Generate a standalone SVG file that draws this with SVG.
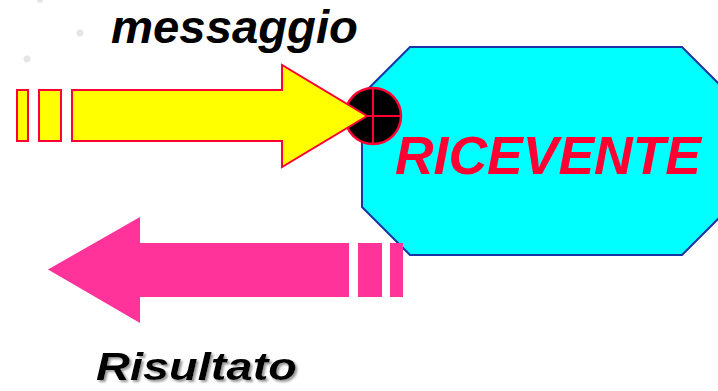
<svg xmlns="http://www.w3.org/2000/svg" width="718" height="391" viewBox="0 0 718 391">
<style>
.lbl{font-family:"Liberation Sans",Arial,sans-serif;font-weight:bold;font-style:italic}
.yel{fill:#ffff00;stroke:#ff0033;stroke-width:2}
.pink{fill:#ff3399}
</style>
<defs>
<filter id="shadow" x="-10%" y="-20%" width="120%" height="150%">
<feGaussianBlur in="SourceAlpha" stdDeviation="1"/>
<feOffset dx="2" dy="2" result="b"/>
<feFlood flood-color="#999999"/>
<feComposite in2="b" operator="in"/>
<feMerge><feMergeNode/><feMergeNode in="SourceGraphic"/></feMerge>
</filter>
</defs>
<rect width="718" height="391" fill="#ffffff"/>
<g id="bullets" fill="#e6e6e6">
<circle cx="40" cy="0" r="3"/>
<circle cx="80" cy="33" r="3.5"/>
<circle cx="27" cy="59" r="3.5"/>
</g>
<g id="ricevente">
<polygon points="410,47 682,47 730,95 730,207 682,255 410,255 362,207 362,95" fill="#00ffff" stroke="#1a33a6" stroke-width="2"/>
<text class="lbl" x="395" y="174" font-size="53" fill="#ff0033" textLength="306" lengthAdjust="spacingAndGlyphs">RICEVENTE</text>
</g>
<g id="port">
<circle cx="373" cy="116" r="28" fill="#000000" stroke="#ff0033" stroke-width="2.5"/>
<line x1="345" y1="116" x2="401" y2="116" stroke="#ff0033" stroke-width="2"/>
<line x1="373" y1="88" x2="373" y2="144" stroke="#ff0033" stroke-width="2"/>
</g>
<g id="connectors">
<g id="messaggio-arrow">
<rect class="yel" x="17" y="90" width="11" height="51"/>
<rect class="yel" x="39" y="90" width="22" height="51"/>
<polygon class="yel" points="72,90 282,90 282,65 367,116 282,167 282,141 72,141"/>
</g>
<g id="risultato-arrow">
<polygon class="pink" points="48,269.5 140,217 140,243 349,243 349,297 140,297 140,323"/>
<rect class="pink" x="358" y="243" width="24" height="54"/>
<rect class="pink" x="390" y="243" width="13" height="54"/>
</g>
</g>
<g id="label-messaggio">
<text class="lbl" x="111" y="43" font-size="47" fill="#000000" textLength="247" lengthAdjust="spacingAndGlyphs">messaggio</text>
</g>
<g id="label-risultato">
<text class="lbl" x="96" y="380" font-size="38" fill="#000000" textLength="201" lengthAdjust="spacingAndGlyphs" filter="url(#shadow)">Risultato</text>
</g>
</svg>
